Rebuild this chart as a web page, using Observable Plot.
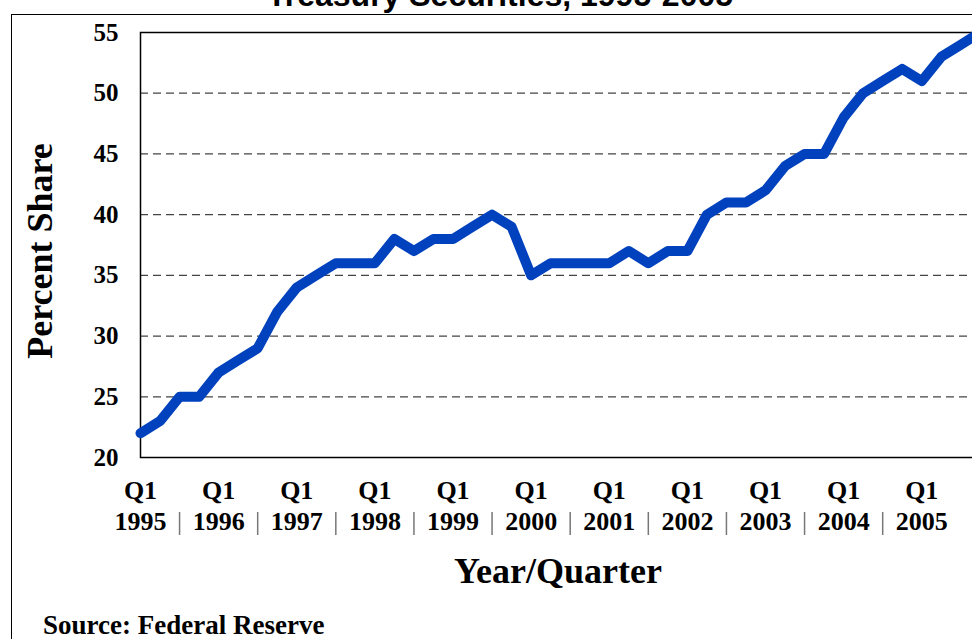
<!DOCTYPE html>
<html>
<head>
<meta charset="utf-8">
<script src="https://cdn.jsdelivr.net/npm/d3@7"></script>
<script src="https://cdn.jsdelivr.net/npm/@observablehq/plot@0.6"></script>
<style>
html, body { margin: 0; padding: 0; background: #fff; overflow: hidden; }
#wrap { position: relative; width: 972px; height: 639px; overflow: hidden; background: #fff; }
#border { position: absolute; left: 11px; top: 14px; width: 1000px; height: 700px; border: 1.5px solid #000; box-sizing: border-box; }
#chart { position: absolute; left: 0; top: 0; }
.lbl { position: absolute; white-space: nowrap; font-family: "Liberation Serif", "Times New Roman", serif; font-weight: bold; line-height: 1; color: #000; }
#title { position: absolute; left: 500px; top: -21px; transform: translateX(-50%); font: bold 32px/1 "Liberation Sans", Arial, sans-serif; white-space: nowrap; color: #000; }
#ylab { left: 40px; top: 251px; font-size: 36px; transform: translate(-50%, -50%) rotate(-90deg); }
#xlab { left: 558px; top: 553px; font-size: 36px; transform: translateX(-50%); }
#src { left: 43px; top: 613px; font-size: 27px; line-height: 0.9; }
</style>
</head>
<body>
<div id="wrap">
  <div id="border"></div>
  <div id="chart"></div>
  <div id="title">Treasury Securities, 1995-2005</div>
  <div class="lbl" id="ylab">Percent Share</div>
  <div class="lbl" id="xlab">Year/Quarter</div>
  <div class="lbl" id="src">Source: Federal Reserve</div>
</div>
<script>
// Years covered (one Q1 label per year) and quarter names
const years = [1995, 1996, 1997, 1998, 1999, 2000, 2001, 2002, 2003, 2004, 2005];
const quarterNames = ["Q1", "Q2", "Q3", "Q4"];
// Foreign share of marketable Treasury securities, percent, quarterly from 1995 Q1
const share = [
  22, 23, 25, 25,
  27, 28, 29, 32,
  34, 35, 36, 36,
  36, 38, 37, 38,
  38, 39, 40, 39,
  35, 36, 36, 36,
  36, 37, 36, 37,
  37, 40, 41, 41,
  42, 44, 45, 45,
  48, 50, 51, 52,
  51, 53, 54, 55
];
const yTicks = [20, 25, 30, 35, 40, 45, 50, 55];
const gridValues = [25, 30, 35, 40, 45, 50];

const data = share.map((v, i) => ({
  t: years[0] + Math.floor(i / 4) + (i % 4) / 4,
  label: `${quarterNames[i % 4]} ${years[0] + Math.floor(i / 4)}`,
  v
}));
const separators = years.slice(0, -1).map(y => y + 0.5);

const font = "'Liberation Serif', 'Times New Roman', serif";

const plot = Plot.plot({
  width: 990,
  height: 639,
  marginLeft: 140,
  marginRight: 0,
  marginTop: 32,
  marginBottom: 182,
  style: { fontFamily: font, background: "transparent", maxWidth: "none", overflow: "visible" },
  x: { type: "linear", domain: [1995, 2005.88] },
  y: { domain: [20, 55] },
  marks: [
    Plot.gridY(gridValues, { stroke: "#444", strokeOpacity: 1, strokeWidth: 1.2, strokeDasharray: "8,5" }),
    Plot.frame({ stroke: "#000", strokeWidth: 1.5 }),
    Plot.axisY(yTicks, { tickSize: 0, tickPadding: 22, fontSize: 25, fontWeight: "bold", fill: "#000", label: null }),
    Plot.axisX(years, {
      tickSize: 0, tickPadding: 0, dy: 18.5,
      tickFormat: y => `Q1\n${y}`, lineHeight: 1.22,
      fontSize: 26, fontWeight: "bold", fill: "#000", label: null
    }),
    Plot.axisX(separators, {
      tickSize: 23, tickPadding: 0, dy: 55, tickFormat: () => "",
      stroke: "#777", strokeWidth: 1.5, label: null
    }),
    Plot.line(data, {
      x: "t", y: "v", stroke: "#0041be", strokeWidth: 10,
      strokeLinejoin: "round", strokeLinecap: "round"
    })
  ]
});
document.getElementById("chart").appendChild(plot);
</script>
</body>
</html>
